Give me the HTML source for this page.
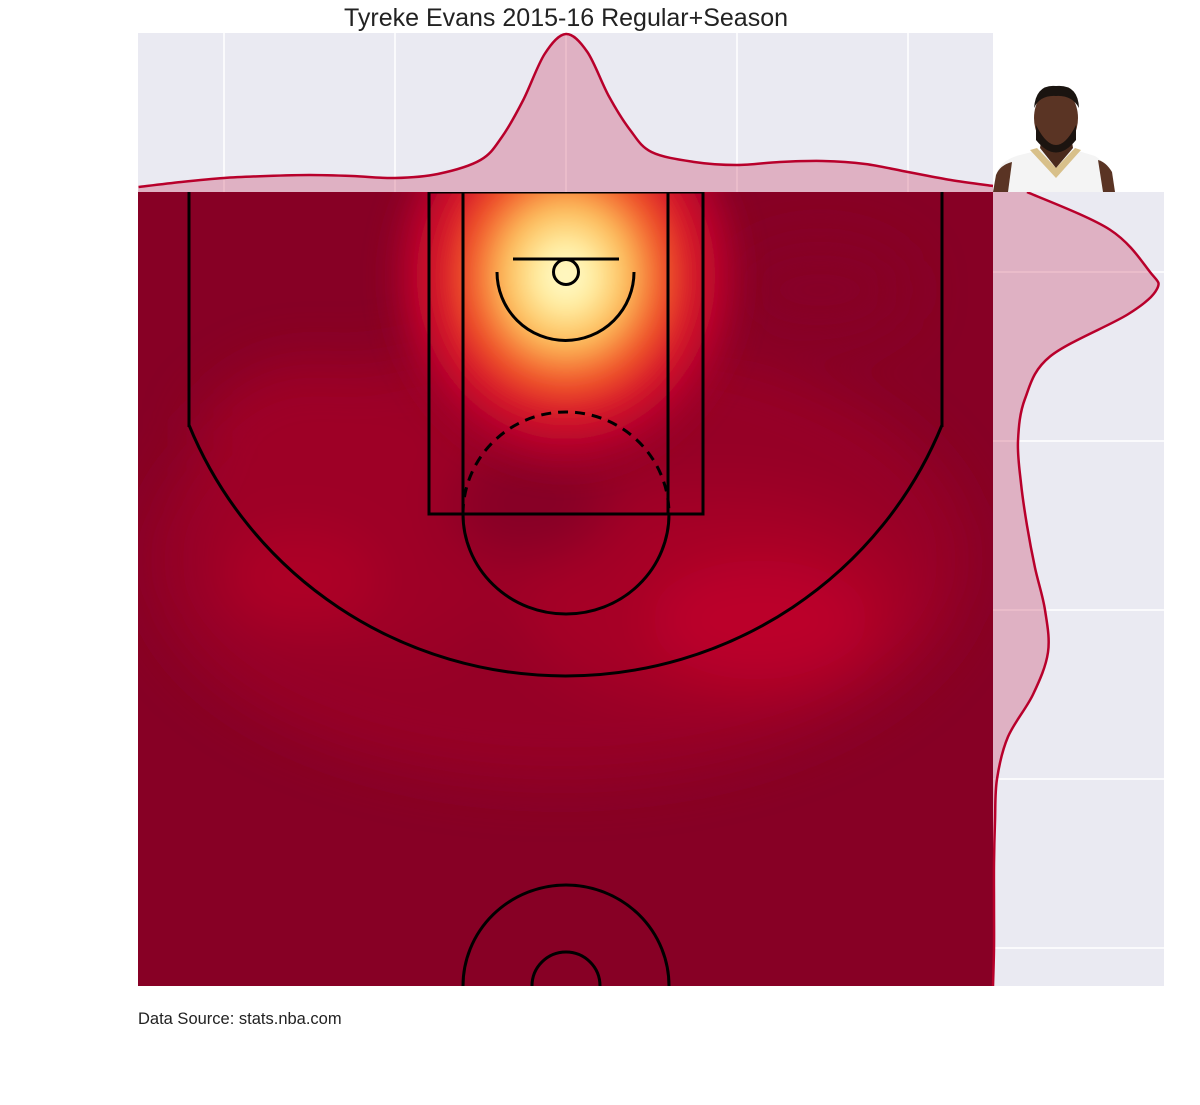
<!DOCTYPE html>
<html><head><meta charset="utf-8"><style>
body{margin:0;background:#fff;width:1200px;height:1100px;overflow:hidden;font-family:"Liberation Sans",sans-serif}
</style></head><body>
<svg id="c" width="1200" height="1100" viewBox="0 0 1200 1100" xmlns="http://www.w3.org/2000/svg">
<defs>
<clipPath id="courtClip"><rect x="138" y="192" width="855" height="794"/></clipPath>
<filter id="bl" x="-50%" y="-50%" width="200%" height="200%"><feGaussianBlur stdDeviation="26"/></filter>
<filter id="bl2" x="-50%" y="-50%" width="200%" height="200%"><feGaussianBlur stdDeviation="10"/></filter>
<radialGradient id="hot" cx="566" cy="278" r="190" gradientUnits="userSpaceOnUse" gradientTransform="translate(0,-30) scale(1,1.1)">
<stop offset="0" stop-color="#fffbd0"/>
<stop offset="0.14" stop-color="#fff0a6"/>
<stop offset="0.32" stop-color="#fdbd5a"/>
<stop offset="0.5" stop-color="#f25a2a"/>
<stop offset="0.66" stop-color="#d8182a"/>
<stop offset="0.82" stop-color="#b0002a"/>
<stop offset="1" stop-color="#9a0028" stop-opacity="0"/>
</radialGradient>
</defs>
<text x="566" y="26" text-anchor="middle" font-size="25" fill="#222">Tyreke Evans 2015-16 Regular+Season</text>
<rect x="138" y="33" width="855" height="159" fill="#eaeaf2"/>
<rect x="993" y="192" width="171" height="794" fill="#eaeaf2"/>
<g id="grids"></g>
<g clip-path="url(#courtClip)">
<rect x="138" y="192" width="855" height="794" fill="#870025"/>
<g filter="url(#bl)">
<ellipse cx="560" cy="560" rx="410" ry="220" fill="#960027"/>
<path d="M200 420 Q300 300 470 430 L560 560 L420 660 Q250 640 200 520Z" fill="#9e0028"/>
<ellipse cx="720" cy="600" rx="200" ry="110" fill="#a60028"/>
<ellipse cx="760" cy="620" rx="110" ry="60" fill="#bb0029"/>
<ellipse cx="300" cy="580" rx="80" ry="50" fill="#ad0028"/>
<ellipse cx="530" cy="505" rx="80" ry="55" fill="#870025"/>
<ellipse cx="820" cy="290" rx="90" ry="50" fill="#870025"/>
</g>
<ellipse cx="566" cy="280" rx="185" ry="200" fill="url(#hot)" filter="url(#bl2)"/>
</g>
<g id="dens"></g>
<g clip-path="url(#courtClip)" fill="none" stroke="#000" stroke-width="3">
<line x1="189" y1="192" x2="189" y2="427"/>
<line x1="942" y1="192" x2="942" y2="427"/>
<path d="M189 425 A406 401 0 0 0 942 425"/>
<rect x="429" y="192" width="274" height="322"/>
<line x1="463" y1="192" x2="463" y2="514"/>
<line x1="668" y1="192" x2="668" y2="514"/>
<path d="M463 514 A103 100 0 0 0 669 514"/>
<path d="M463 514 A103 102 0 0 1 669 514" stroke-dasharray="10,7"/>
<path d="M497 272 A68 68 0 0 0 634 272"/>
<line x1="513" y1="259" x2="619" y2="259"/>
<circle cx="566" cy="272" r="12.5"/>
<ellipse cx="566" cy="986" rx="103" ry="101"/>
<ellipse cx="566" cy="986" rx="34" ry="34"/>
</g>
<g>
<path d="M993 192 L996 175 Q1000 160 1020 155 L1040 150 L1075 150 L1095 156 Q1110 165 1115 192Z" fill="#f4f4f4"/>
<path d="M993 192 L996 175 Q1000 165 1012 162 L1008 192Z" fill="#5a3424"/>
<path d="M1115 192 L1112 172 Q1106 162 1098 160 L1103 192Z" fill="#5a3424"/>
<path d="M1030 150 L1056 178 L1081 150 L1075 148 L1056 168 L1037 148Z" fill="#d8c08a"/>
<path d="M1040 148 L1056 168 L1073 148 L1070 130 L1043 130Z" fill="#4a2a1c"/>
<ellipse cx="1056" cy="118" rx="22" ry="30" fill="#5a3424"/>
<path d="M1036 125 Q1056 165 1076 125 L1076 140 Q1056 165 1036 140Z" fill="#1c1410"/>
<path d="M1034 108 Q1036 84 1056 86 Q1078 84 1079 108 Q1072 95 1056 96 Q1040 95 1034 108Z" fill="#1a1410"/>
</g>
<text x="138" y="1024" font-size="16.5" fill="#222">Data Source: stats.nba.com</text>
</svg>
<script>
// top marginal: shot density vs court x (data units)
const topX = [-250,-225,-200,-175,-150,-125,-100,-75,-50,-37.5,-25,-12.5,0,12.5,25,37.5,50,75,100,125,150,175,200,225,250];
const topDensity = [5,10,14,16,17,16,14,18,32,55,92,138,158,140,96,62,40,30,27,30,31,28,20,12,6];
// right marginal: shot density vs court y (data units)
const rightY = [-47.5,-25,0,10,25,50,75,100,125,150,175,200,225,250,275,300,325,350,375,400,422.5];
const rightDensity = [34,117,157,164,135,57,32,25,28,34,42,52,55,40,15,4,2,1,1,1,0];
const gridX = [-200,-100,0,100,200];
const gridY = [0,100,200,300,400];
const NS='http://www.w3.org/2000/svg';
const sx = v => 566 + v*1.71;
const sy = v => 272 + v*1.69;
const g = document.getElementById('grids');
gridX.forEach(v=>{const l=document.createElementNS(NS,'line');
l.setAttribute('x1',sx(v));l.setAttribute('x2',sx(v));l.setAttribute('y1',33);l.setAttribute('y2',192);
l.setAttribute('stroke','#fff');l.setAttribute('stroke-width','1.5');


g.appendChild(l);});
gridY.forEach(v=>{const l=document.createElementNS(NS,'line');
l.setAttribute('x1',993);l.setAttribute('x2',1164);l.setAttribute('y1',sy(v));l.setAttribute('y2',sy(v));
l.setAttribute('stroke','#fff');l.setAttribute('stroke-width','1.5');


g.appendChild(l);});
function smooth(pts){let d='M'+pts[0][0]+' '+pts[0][1];
for(let i=0;i<pts.length-1;i++){const p0=pts[i-1]||pts[i],p1=pts[i],p2=pts[i+1],p3=pts[i+2]||p2;
d+=' C'+(p1[0]+(p2[0]-p0[0])/6)+' '+(p1[1]+(p2[1]-p0[1])/6)+' '+(p2[0]-(p3[0]-p1[0])/6)+' '+(p2[1]-(p3[1]-p1[1])/6)+' '+p2[0]+' '+p2[1];}
return d;}
const dg=document.getElementById('dens');
const tp=topX.map((x,i)=>[Math.max(138,Math.min(993,sx(x))),192-topDensity[i]]);
const tl=smooth(tp);
const tf=document.createElementNS(NS,'path');
tf.setAttribute('d',tl+' L993 192 L138 192Z');tf.setAttribute('fill','rgba(200,60,100,0.33)');


dg.appendChild(tf);
const ts=document.createElementNS(NS,'path');
ts.setAttribute('d',tl);ts.setAttribute('fill','none');ts.setAttribute('stroke','#b8002b');ts.setAttribute('stroke-width','2.5');


dg.appendChild(ts);
const rp=rightY.map((y,i)=>[993+rightDensity[i],Math.max(192,Math.min(986,sy(y)))]);
const rl=smooth(rp);
const rf=document.createElementNS(NS,'path');
rf.setAttribute('d',rl+' L993 986 L993 192Z');rf.setAttribute('fill','rgba(200,60,100,0.33)');


dg.appendChild(rf);
const rs=document.createElementNS(NS,'path');
rs.setAttribute('d',rl);rs.setAttribute('fill','none');rs.setAttribute('stroke','#b8002b');rs.setAttribute('stroke-width','2.5');


dg.appendChild(rs);
</script>
</body></html>
